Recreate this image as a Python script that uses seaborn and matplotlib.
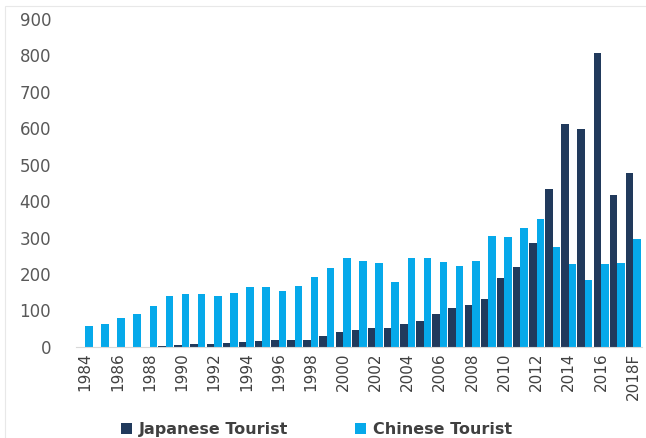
import pandas as pd
import numpy as np
import matplotlib.pyplot as plt
import seaborn as sns
from matplotlib.patches import Rectangle

years = [str(y) for y in range(1984, 2018)] + ["2018F"]
japanese = [0, 0, 0, 0, 1, 2, 4, 7, 7, 10, 13, 16, 18, 18, 18, 30, 42, 47, 53, 51,
            63, 71, 89, 106, 115, 132, 188, 220, 284, 432, 611, 597, 806, 417, 478]
chinese = [57, 63, 78, 90, 113, 139, 145, 145, 139, 147, 165, 165, 153, 168, 193, 217,
           245, 237, 231, 179, 243, 243, 234, 222, 237, 303, 301, 327, 350, 275, 228,
           183, 228, 231, 297]
series = ["Japanese Tourist", "Chinese Tourist"]
colors = ["#213A5C", "#06A9EA"]

df = pd.DataFrame({"Year": years * 2,
                   "Tourist": [series[0]] * len(years) + [series[1]] * len(years),
                   "Value": japanese + chinese})

sns.set_style("white")
plt.rcParams["font.family"] = ["DejaVu Sans"]

fig = plt.figure(figsize=(6.46, 4.38), dpi=100)
ax = fig.add_axes([0.118, 0.208, 0.876, 0.749])

sns.barplot(data=df, x="Year", y="Value", hue="Tourist", order=years,
            hue_order=series, palette=colors, width=0.93, gap=0,
            saturation=1, linewidth=0, ax=ax, legend=True)

ax.set_ylim(0, 900)
ax.set_xlim(-0.55, len(years) - 0.45)
ax.set_yticks(range(0, 901, 100))
ax.set_xticks(range(0, len(years), 2))
ax.set_xticklabels(years[::2], rotation=90)
ax.tick_params(axis="y", length=0, pad=18, labelsize=12, labelcolor="#595959")
ax.tick_params(axis="x", length=0, pad=4, labelsize=11, labelcolor="#404040")
ax.set_xlabel("")
ax.set_ylabel("")
for s in ["top", "right", "left"]:
    ax.spines[s].set_visible(False)
ax.spines["bottom"].set_color("#d9d9d9")
ax.spines["bottom"].set_linewidth(0.8)

handles, labels = ax.get_legend_handles_labels()
ax.get_legend().remove()
fig.legend(handles, labels, loc="lower left", bbox_to_anchor=(0.165, -0.03),
           ncol=2, frameon=False, handlelength=0.7, handleheight=0.7,
           handletextpad=0.4, columnspacing=4.2,
           prop={"weight": "bold", "size": 11.5})
for t in fig.legends[0].get_texts():
    t.set_color("#404040")

fig.patches.append(Rectangle((5 / 646, -0.1), 1.2, 1.1 - 6 / 438, transform=fig.transFigure,
                             fill=False, edgecolor="#e8e8e8", linewidth=0.8))

plt.savefig("out.png", dpi=100)
